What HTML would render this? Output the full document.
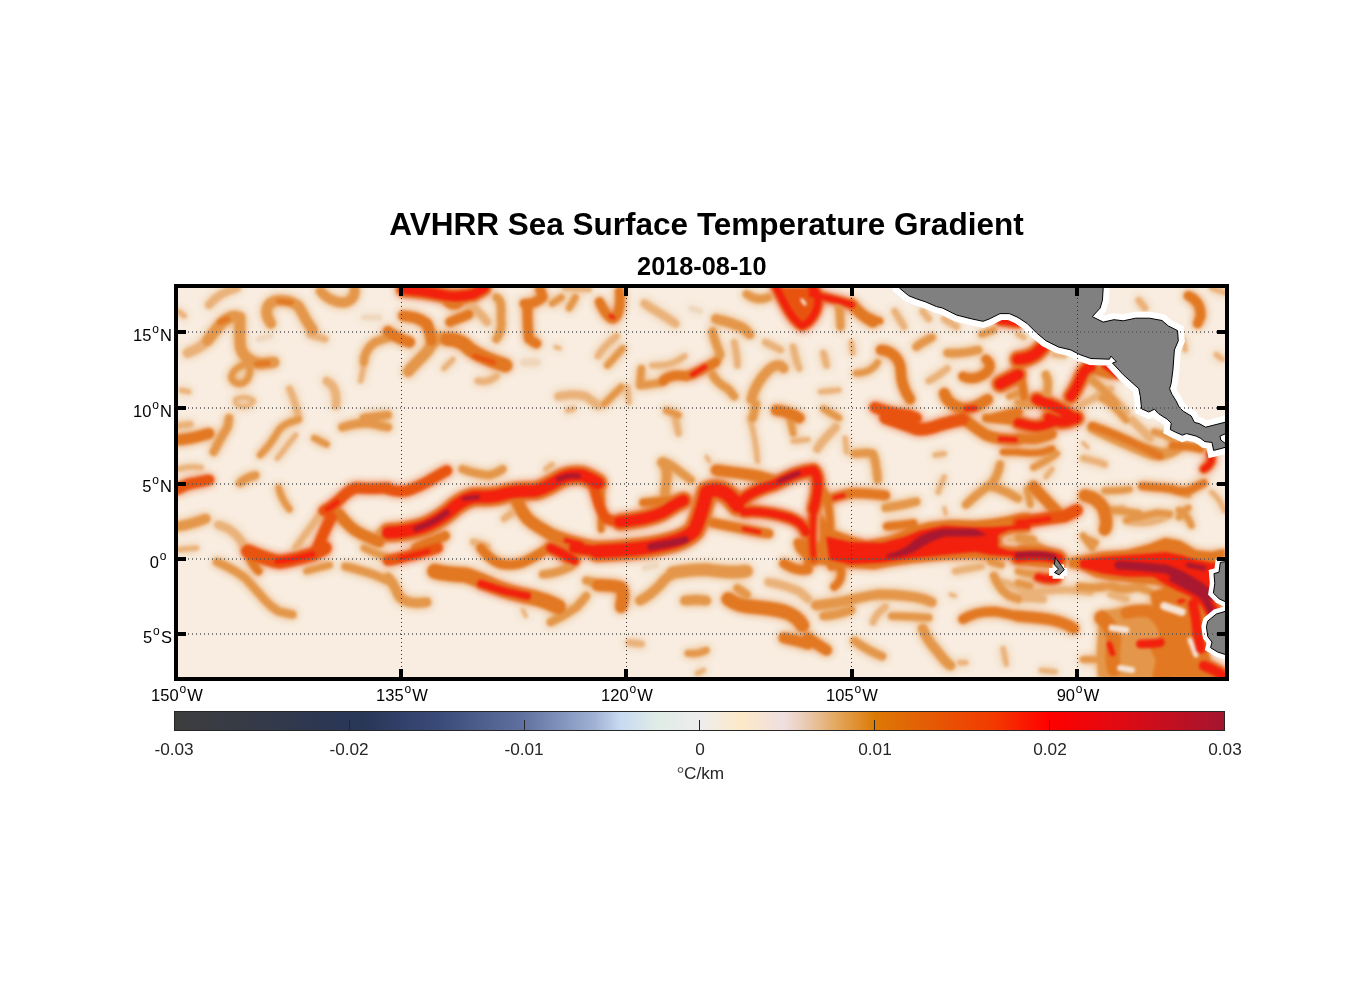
<!DOCTYPE html>
<html><head><meta charset="utf-8">
<style>
html,body{margin:0;padding:0;background:#fff;}
body{width:1356px;height:1000px;overflow:hidden;position:relative;}
svg{position:absolute;left:0;top:0;}
text{font-family:"Liberation Sans",Arial,sans-serif;}
</style></head><body>
<svg width="1356" height="1000" viewBox="0 0 1356 1000">
<defs>
<clipPath id="mc"><rect x="178" y="288" width="1047" height="389"/></clipPath>
<filter id="b3" x="-20%" y="-20%" width="140%" height="140%"><feGaussianBlur stdDeviation="3"/></filter>
<filter id="b2" x="-10%" y="-10%" width="120%" height="120%" color-interpolation-filters="sRGB">
<feGaussianBlur in="SourceGraphic" stdDeviation="4" result="w"/>
<feComponentTransfer in="w" result="w2"><feFuncA type="linear" slope="0.9"/></feComponentTransfer>
<feGaussianBlur in="SourceGraphic" stdDeviation="1.8" result="c"/>
<feMerge><feMergeNode in="w2"/><feMergeNode in="c"/></feMerge>
</filter>
<linearGradient id="cb" x1="0" x2="1" y1="0" y2="0">
<stop offset="0" stop-color="#3d3d3d"/>
<stop offset="0.08" stop-color="#343a48"/>
<stop offset="0.18" stop-color="#283658"/>
<stop offset="0.25" stop-color="#3a4a78"/>
<stop offset="0.33" stop-color="#5f6f9f"/>
<stop offset="0.40" stop-color="#a0b2d4"/>
<stop offset="0.425" stop-color="#c8daf2"/>
<stop offset="0.46" stop-color="#e0ece6"/>
<stop offset="0.50" stop-color="#ededed"/>
<stop offset="0.54" stop-color="#fde9c8"/>
<stop offset="0.58" stop-color="#efdfe0"/>
<stop offset="0.60" stop-color="#e9ccb5"/>
<stop offset="0.63" stop-color="#e4a860"/>
<stop offset="0.667" stop-color="#dc7a05"/>
<stop offset="0.72" stop-color="#e55a05"/>
<stop offset="0.78" stop-color="#f33a00"/>
<stop offset="0.833" stop-color="#ff0000"/>
<stop offset="0.90" stop-color="#e00a12"/>
<stop offset="1" stop-color="#a3152f"/>
</linearGradient>
</defs>
<!-- title -->
<text x="706.5" y="235" font-size="31.5" font-weight="bold" text-anchor="middle" fill="#000">AVHRR Sea Surface Temperature Gradient</text>
<text x="701.8" y="275" font-size="25.3" font-weight="bold" text-anchor="middle" fill="#000">2018-08-10</text>
<!-- map -->
<g clip-path="url(#mc)">
<rect x="178" y="288" width="1047" height="389" fill="#f8ede0"/>
<style>
.f path{fill:none;stroke-linecap:round;stroke-linejoin:round;}
.o0{stroke:#eed6bc}
.o1{stroke:#eab27a}
.o2{stroke:#e4974a}
.o3{stroke:#e27822}
.o4{stroke:#e8540f}
.hl{stroke:#f5e4d6}
.r1{stroke:#f2200c}
.r2{stroke:#d80e15}
.r3{stroke:#a81830}
</style>
<g class="f" filter="url(#b2)">
<g transform="translate(388,288) scale(0.154867)">
<path class="o3" stroke-width="96" d="M100 10 C180 15 260 25 380 50 C430 60 480 55 550 40 L620 0"/>
</g>
<g transform="translate(598,288) scale(0.154867)">
<path class="o3" stroke-width="36" d="M80 180 L100 190"/>
<path class="o3" stroke-width="48" d="M610 560 L690 510"/>
</g>
<g transform="translate(808,288) scale(0.154867)">
<path class="o3" stroke-width="72" d="M1240 210 L1356 225"/>
<path class="o3" stroke-width="108" d="M1240 620 C1280 600 1320 580 1356 560"/>
<path class="o3" stroke-width="48" d="M1020 780 L1080 775"/>
</g>
<g transform="translate(1018,288) scale(0.154867)">
<path class="o3" stroke-width="108" d="M0 460 C40 460 80 450 120 420 L160 380"/>
<path class="o3" stroke-width="96" d="M120 720 C180 740 240 760 300 800 L360 839"/>
<path class="o3" stroke-width="96" d="M340 700 C370 660 390 620 410 570 C430 530 450 510 470 510"/>
<path class="o3" stroke-width="60" d="M560 500 L640 560"/>
</g>
<g transform="translate(178,418) scale(0.154867)">
<path class="o3" stroke-width="42" d="M960 590 C990 575 1010 560 1030 540"/>
</g>
<g transform="translate(388,418) scale(0.154867)">
<path class="o3" stroke-width="120" d="M0 740 C60 740 140 730 220 705 C290 680 350 640 400 600 C440 560 480 530 550 510 C620 505 680 520 750 490 C800 475 870 470 950 470 C1000 460 1050 430 1100 400 C1150 370 1200 365 1250 370 C1290 380 1320 400 1356 420"/>
<path class="o3" stroke-width="48" d="M1150 790 L1250 815"/>
</g>
<g transform="translate(808,418) scale(0.154867)">
<path class="o3" stroke-width="48" d="M1240 135 L1340 140"/>
<path class="o3" stroke-width="42" d="M170 515 L230 500"/>
</g>
<g transform="translate(1018,418) scale(0.154867)">
<path class="o3" stroke-width="84" d="M0 30 C40 40 80 55 120 55 C160 50 190 40 220 30"/>
<path class="o3" stroke-width="96" d="M200 0 C240 20 280 30 320 20 L380 0"/>
<path class="o3" stroke-width="60" d="M1240 230 C1260 260 1250 300 1200 330"/>
</g>
<g transform="translate(178,548) scale(0.154867)">
<path class="o3" stroke-width="54" d="M640 85 C720 80 800 60 870 40"/>
</g>
<g transform="translate(388,548) scale(0.154867)">
<path class="o3" stroke-width="42" d="M80 65 C140 52 200 38 260 20"/>
<path class="o3" stroke-width="72" d="M600 230 C660 250 720 270 780 285 C830 295 870 305 900 310"/>
<path class="o3" stroke-width="84" d="M1050 0 C1100 20 1150 45 1200 80"/>
<path class="o3" stroke-width="96" d="M1200 0 C1260 10 1310 15 1356 20"/>
</g>
<g transform="translate(1018,548) scale(0.154867)">
<path class="o3" stroke-width="132" d="M900 150 C950 185 1000 220 1080 250 C1140 270 1180 300 1220 350 L1260 420"/>
<path class="o3" stroke-width="96" d="M1130 360 C1145 420 1155 500 1160 560 L1180 650"/>
<path class="o3" stroke-width="54" d="M590 620 L610 680"/>
<path class="o3" stroke-width="84" d="M790 620 C830 620 870 620 920 610"/>
<path class="o3" stroke-width="96" d="M1200 760 C1250 780 1300 800 1336 839"/>
<path class="o3" stroke-width="36" d="M1040 345 L1070 340"/>
</g>
<g transform="translate(620,450) scale(0.154867)">
<path class="o3" stroke-width="108" d="M0 465 C100 455 200 440 280 400 C320 375 350 350 410 325"/>
<path class="o3" stroke-width="132" d="M-150 655 C0 650 100 640 200 625 C330 600 420 580 480 520 C520 440 540 350 560 270 C600 250 660 250 720 310 L760 360"/>
<path class="o3" stroke-width="90" d="M760 360 C800 290 900 250 1000 220 C1080 180 1150 140 1250 130 C1290 180 1280 280 1250 380"/>
<path class="o3" stroke-width="42" d="M1255 360 C1245 450 1238 560 1250 680"/>
<path class="o3" stroke-width="78" d="M800 400 C900 390 1000 410 1100 440 C1150 460 1180 480 1200 530"/>
<path class="o3" stroke-width="42" d="M800 510 L900 530"/>
</g>
<g transform="translate(1018,490) scale(0.154867)">
<path class="o3" stroke-width="108" d="M0 430 C100 420 200 425 260 445"/>
<path class="o3" stroke-width="72" d="M130 560 C170 575 210 580 250 570"/>
<path class="o3" stroke-width="48" d="M0 212 C80 205 140 195 200 185"/>
</g>
<g transform="translate(0,0) scale(1.000000)">
<path class="o3" stroke-width="10.8" d="M776 287 C783 300 790 318 802 326 C812 322 818 310 818 300 C818 293 815 289 812 288"/>
<path class="o3" stroke-width="9.6" d="M812 294 C825 298 840 300 852 305"/>
</g>
<g transform="translate(178,288) scale(0.154867)">
<path class="o0" stroke-width="34" d="M520 330 L600 310"/>
<path class="o0" stroke-width="34" d="M1200 190 L1300 190"/>
</g>
<g transform="translate(388,288) scale(0.154867)">
<path class="o0" stroke-width="51" d="M880 480 L960 480"/>
</g>
<g transform="translate(598,288) scale(0.154867)">
<path class="o0" stroke-width="34" d="M600 130 L660 150"/>
</g>
<g transform="translate(598,548) scale(0.154867)">
<path class="o0" stroke-width="34" d="M300 130 L380 110"/>
</g>
<g transform="translate(178,288) scale(0.154867)">
<path class="o1" stroke-width="51" d="M200 110 C240 60 300 20 380 0"/>
<path class="o1" stroke-width="59.5" d="M60 420 C100 400 150 390 190 340"/>
<path class="o1" stroke-width="34" d="M1180 600 L1200 500"/>
<path class="o1" stroke-width="51" d="M960 600 C1000 620 1030 660 1020 760"/>
<path class="o1" stroke-width="42.5" d="M720 650 C740 690 760 750 780 839"/>
<path class="o1" stroke-width="29.75" d="M370 720 C400 700 460 700 490 730 C460 770 400 780 370 740"/>
<path class="o1" stroke-width="34" d="M0 150 L40 180"/>
<path class="o1" stroke-width="34" d="M20 660 L70 670"/>
<path class="o1" stroke-width="42.5" d="M850 300 L950 330"/>
</g>
<g transform="translate(388,288) scale(0.154867)">
<path class="o1" stroke-width="51" d="M540 120 C570 140 610 180 640 220"/>
<path class="o1" stroke-width="34" d="M360 520 L420 460"/>
<path class="o1" stroke-width="42.5" d="M580 600 C620 610 660 600 700 570"/>
<path class="o1" stroke-width="25.5" d="M1080 380 L1110 390"/>
<path class="o1" stroke-width="51" d="M1100 700 C1160 690 1220 680 1280 700 L1356 760"/>
<path class="o1" stroke-width="34" d="M1160 790 L1200 780"/>
<path class="o1" stroke-width="34" d="M1140 0 L1300 10"/>
</g>
<g transform="translate(598,288) scale(0.154867)">
<path class="o1" stroke-width="51" d="M300 100 C340 130 400 160 500 230"/>
<path class="o1" stroke-width="42.5" d="M0 440 C20 400 60 360 120 310"/>
<path class="o1" stroke-width="34" d="M190 640 L200 740"/>
<path class="o1" stroke-width="42.5" d="M880 350 C890 400 900 450 900 500"/>
<path class="o1" stroke-width="38.25" d="M350 500 C420 500 480 500 560 440"/>
<path class="o1" stroke-width="42.5" d="M1080 350 L1180 400"/>
<path class="o1" stroke-width="42.5" d="M1260 380 C1270 430 1280 480 1300 520"/>
</g>
<g transform="translate(808,288) scale(0.154867)">
<path class="o1" stroke-width="42.5" d="M560 150 L620 250"/>
<path class="o1" stroke-width="42.5" d="M740 150 L780 200"/>
<path class="o1" stroke-width="42.5" d="M880 200 L960 250"/>
<path class="o1" stroke-width="42.5" d="M100 420 L120 500"/>
<path class="o1" stroke-width="34" d="M280 350 L290 420"/>
<path class="o1" stroke-width="34" d="M80 670 L200 660"/>
<path class="o1" stroke-width="42.5" d="M780 600 C820 580 860 550 900 520"/>
</g>
<g transform="translate(1018,288) scale(0.154867)">
<path class="o1" stroke-width="42.5" d="M400 760 C450 730 520 700 600 650"/>
<path class="o1" stroke-width="42.5" d="M600 700 L700 800"/>
<path class="o1" stroke-width="34" d="M230 430 L300 440"/>
<path class="o1" stroke-width="42.5" d="M780 80 L820 130"/>
<path class="o1" stroke-width="34" d="M1060 320 L1080 400"/>
<path class="o1" stroke-width="34" d="M1280 430 L1320 460"/>
<path class="o1" stroke-width="34" d="M1250 0 L1336 30"/>
<path class="o1" stroke-width="34" d="M0 300 L40 320"/>
</g>
<g transform="translate(178,418) scale(0.154867)">
<path class="o1" stroke-width="42.5" d="M0 50 L80 40"/>
<path class="o1" stroke-width="34" d="M0 330 C40 320 100 310 150 320"/>
<path class="o1" stroke-width="34" d="M640 260 C670 230 700 180 760 110"/>
<path class="o1" stroke-width="42.5" d="M760 839 C800 780 860 700 920 620"/>
<path class="o1" stroke-width="51" d="M260 690 C300 700 340 720 370 750 C400 780 420 810 430 839"/>
</g>
<g transform="translate(388,418) scale(0.154867)">
<path class="o1" stroke-width="34" d="M1020 330 L1060 300"/>
<path class="o1" stroke-width="42.5" d="M750 650 L830 590"/>
<path class="o1" stroke-width="42.5" d="M550 800 L640 830"/>
</g>
<g transform="translate(598,418) scale(0.154867)">
<path class="o1" stroke-width="42.5" d="M500 0 L520 100"/>
<path class="o1" stroke-width="34" d="M980 0 C1000 70 1020 150 1030 280"/>
<path class="o1" stroke-width="34" d="M1260 150 L1356 140"/>
<path class="o1" stroke-width="25.5" d="M700 250 L720 280"/>
</g>
<g transform="translate(808,418) scale(0.154867)">
<path class="o1" stroke-width="51" d="M60 200 C80 160 120 120 180 60"/>
<path class="o1" stroke-width="34" d="M240 130 L250 220"/>
<path class="o1" stroke-width="34" d="M840 480 C850 450 865 420 880 380"/>
<path class="o1" stroke-width="25.5" d="M880 580 L890 620"/>
<path class="o1" stroke-width="34" d="M820 240 L880 230"/>
</g>
<g transform="translate(1018,418) scale(0.154867)">
<path class="o1" stroke-width="34" d="M180 380 L220 330"/>
<path class="o1" stroke-width="25.5" d="M420 160 L450 190"/>
<path class="o1" stroke-width="42.5" d="M420 260 C460 270 520 280 560 300"/>
<path class="o1" stroke-width="34" d="M600 590 L680 580"/>
<path class="o1" stroke-width="34" d="M1250 480 C1280 500 1310 540 1336 600"/>
</g>
<g transform="translate(178,548) scale(0.154867)">
<path class="o1" stroke-width="34" d="M0 10 L120 0"/>
</g>
<g transform="translate(388,548) scale(0.154867)">
<path class="o1" stroke-width="25.5" d="M870 400 L890 440"/>
</g>
<g transform="translate(598,548) scale(0.154867)">
<path class="o1" stroke-width="51" d="M1100 220 C1160 230 1220 245 1300 280 L1356 330"/>
<path class="o1" stroke-width="42.5" d="M200 610 L280 620"/>
<path class="o1" stroke-width="34" d="M640 810 L680 790"/>
</g>
<g transform="translate(808,548) scale(0.154867)">
<path class="o1" stroke-width="42.5" d="M420 480 C430 440 460 410 500 380"/>
<path class="o1" stroke-width="42.5" d="M950 150 C1000 140 1050 130 1120 120"/>
<path class="o1" stroke-width="25.5" d="M920 300 L950 310"/>
<path class="o1" stroke-width="34" d="M980 740 L1020 740"/>
<path class="o1" stroke-width="34" d="M1260 650 L1280 750"/>
</g>
<g transform="translate(1018,548) scale(0.154867)">
<path class="o1" stroke-width="51" d="M0 320 C60 320 110 322 160 330"/>
<path class="o1" stroke-width="42.5" d="M600 300 L700 330"/>
<path class="o1" stroke-width="34" d="M150 790 L240 800"/>
</g>
<g transform="translate(820,490) scale(0.154867)">
<path class="o1" stroke-width="34" d="M860 345 L950 345"/>
<path class="o1" stroke-width="34" d="M1220 320 L1240 320"/>
</g>
<g transform="translate(1018,490) scale(0.154867)">
<path class="o1" stroke-width="42.5" d="M700 200 C780 215 860 225 980 160"/>
</g>
<g transform="translate(0,0) scale(1.000000)">
<path class="o1" stroke-width="6.8" d="M1035 592 C1050 590 1070 588 1090 592"/>
<path class="o1" stroke-width="5.95" d="M1002 582 C1012 584 1025 590 1040 598"/>
<path class="o1" stroke-width="7.65" d="M1132 420 L1150 438"/>
</g>
<g transform="translate(178,288) scale(0.154867)">
<path class="o2" stroke-width="68" d="M190 340 C230 290 270 230 300 210 C330 190 360 170 400 190"/>
<path class="o2" stroke-width="68" d="M400 190 C400 250 395 330 405 390 C420 440 470 480 530 490 L620 480"/>
<path class="o2" stroke-width="42.5" d="M345 580 C350 530 400 500 445 490 C480 510 460 580 440 600 C410 630 360 620 345 580"/>
<path class="o2" stroke-width="63.75" d="M600 230 C560 170 560 110 620 85 C680 70 750 90 780 120 C810 170 830 220 870 270"/>
<path class="o2" stroke-width="59.5" d="M920 20 C950 60 1000 90 1060 95 C1110 95 1150 60 1140 0"/>
<path class="o2" stroke-width="51" d="M1200 480 C1200 420 1230 380 1270 350 L1356 320"/>
<path class="o2" stroke-width="51" d="M1200 839 L1356 820"/>
</g>
<g transform="translate(388,288) scale(0.154867)">
<path class="o2" stroke-width="68" d="M130 540 C160 500 220 450 260 400 C280 360 310 330 340 320"/>
<path class="o2" stroke-width="51" d="M700 60 C740 80 730 140 730 200 C740 250 720 300 700 330"/>
<path class="o2" stroke-width="42.5" d="M1060 100 L1120 60"/>
<path class="o2" stroke-width="42.5" d="M1170 130 L1210 60"/>
</g>
<g transform="translate(598,288) scale(0.154867)">
<path class="o2" stroke-width="42.5" d="M60 500 C100 460 130 420 160 390"/>
<path class="o2" stroke-width="42.5" d="M40 750 C70 720 100 690 150 640"/>
<path class="o2" stroke-width="51" d="M960 40 C1000 70 1050 80 1100 60"/>
<path class="o2" stroke-width="59.5" d="M760 200 C800 210 860 220 940 260 L980 300"/>
<path class="o2" stroke-width="51" d="M740 280 C750 340 780 400 790 430 L760 480"/>
<path class="o2" stroke-width="46.75" d="M280 520 L270 630 L420 610"/>
<path class="o2" stroke-width="51" d="M740 560 C760 600 800 630 840 650 L880 700"/>
<path class="o2" stroke-width="59.5" d="M990 720 C1010 640 1050 580 1100 530 C1140 490 1180 490 1200 520"/>
<path class="o2" stroke-width="51" d="M1020 750 L1000 839"/>
<path class="o2" stroke-width="42.5" d="M440 790 L520 820"/>
</g>
<g transform="translate(808,288) scale(0.154867)">
<path class="o2" stroke-width="51" d="M200 100 C205 150 210 200 210 250"/>
<path class="o2" stroke-width="51" d="M700 380 C720 360 760 340 800 320"/>
<path class="o2" stroke-width="42.5" d="M310 550 C360 550 420 530 450 480"/>
<path class="o2" stroke-width="51" d="M900 420 C960 425 1020 420 1100 400"/>
<path class="o2" stroke-width="42.5" d="M1120 300 L1200 270"/>
<path class="o2" stroke-width="42.5" d="M1300 700 L1356 680"/>
<path class="o2" stroke-width="42.5" d="M100 780 L200 839"/>
</g>
<g transform="translate(1018,288) scale(0.154867)">
<path class="o2" stroke-width="51" d="M180 560 C200 600 200 640 180 700"/>
<path class="o2" stroke-width="42.5" d="M0 740 L80 760"/>
</g>
<g transform="translate(178,418) scale(0.154867)">
<path class="o2" stroke-width="51" d="M230 220 C250 180 280 120 320 60 L330 0"/>
<path class="o2" stroke-width="51" d="M400 420 C420 400 460 380 500 370"/>
<path class="o2" stroke-width="42.5" d="M530 240 C560 210 600 170 650 80 C670 50 700 30 780 10"/>
<path class="o2" stroke-width="42.5" d="M880 130 L960 170"/>
<path class="o2" stroke-width="51" d="M1060 60 C1120 40 1180 30 1240 35 L1356 60"/>
<path class="o2" stroke-width="42.5" d="M650 450 C660 490 680 540 720 590"/>
<path class="o2" stroke-width="59.5" d="M0 700 C40 695 100 680 180 650"/>
<path class="o2" stroke-width="42.5" d="M1300 740 L1356 720"/>
</g>
<g transform="translate(388,418) scale(0.154867)">
<path class="o2" stroke-width="51" d="M480 330 C520 345 580 360 650 370 C690 360 720 345 740 330"/>
</g>
<g transform="translate(598,418) scale(0.154867)">
<path class="o2" stroke-width="51" d="M420 280 C450 290 480 310 520 340 C560 370 580 390 600 400"/>
<path class="o2" stroke-width="42.5" d="M1240 0 L1260 100"/>
</g>
<g transform="translate(808,418) scale(0.154867)">
<path class="o2" stroke-width="51" d="M300 230 C350 225 400 220 420 230 C440 280 445 340 450 400"/>
<path class="o2" stroke-width="51" d="M500 580 C560 570 620 560 700 540"/>
<path class="o2" stroke-width="51" d="M1020 560 C1060 520 1100 480 1180 430 C1210 400 1230 350 1240 300"/>
<path class="o2" stroke-width="51" d="M1180 440 C1230 455 1280 470 1356 520"/>
</g>
<g transform="translate(1018,418) scale(0.154867)">
<path class="o2" stroke-width="42.5" d="M100 320 C140 300 180 280 220 250 L250 230"/>
<path class="o2" stroke-width="68" d="M480 60 C540 90 600 120 680 155 C740 180 800 210 880 235 C940 245 990 225 1050 180"/>
<path class="o2" stroke-width="42.5" d="M880 90 C920 100 960 110 1000 140"/>
<path class="o2" stroke-width="42.5" d="M60 460 L80 560"/>
<path class="o2" stroke-width="42.5" d="M560 470 C600 470 650 470 720 460"/>
<path class="o2" stroke-width="42.5" d="M700 660 C760 645 830 630 900 612 L980 620"/>
<path class="o2" stroke-width="42.5" d="M1040 640 C1060 610 1080 590 1100 580"/>
<path class="o2" stroke-width="42.5" d="M420 760 C440 790 460 810 480 839"/>
<path class="o2" stroke-width="42.5" d="M0 780 C40 790 100 810 150 839"/>
</g>
<g transform="translate(178,548) scale(0.154867)">
<path class="o2" stroke-width="51" d="M250 90 C300 110 360 140 430 190 C470 230 500 270 530 300 C560 340 600 380 650 410 L740 430"/>
<path class="o2" stroke-width="42.5" d="M830 150 C860 140 900 130 980 110"/>
<path class="o2" stroke-width="51" d="M1080 120 C1140 130 1200 150 1260 170 L1356 210"/>
<path class="o2" stroke-width="42.5" d="M1200 0 C1240 20 1290 45 1356 60"/>
</g>
<g transform="translate(388,548) scale(0.154867)">
<path class="o2" stroke-width="59.5" d="M0 190 C30 220 50 260 70 310 C100 350 150 365 250 350"/>
<path class="o2" stroke-width="51" d="M1000 170 C1050 168 1100 160 1180 120"/>
<path class="o2" stroke-width="51" d="M1050 480 C1100 455 1150 430 1220 380 L1280 310"/>
<path class="o2" stroke-width="51" d="M1280 210 L1356 230"/>
</g>
<g transform="translate(598,548) scale(0.154867)">
<path class="o2" stroke-width="59.5" d="M270 340 C310 320 350 290 400 240 C430 200 450 180 480 170"/>
<path class="o2" stroke-width="76.5" d="M480 160 C540 150 600 140 700 140 C780 150 860 165 960 150"/>
<path class="o2" stroke-width="59.5" d="M560 340 C600 335 640 330 700 340"/>
<path class="o2" stroke-width="51" d="M900 260 L960 300"/>
<path class="o2" stroke-width="42.5" d="M580 680 C620 685 660 680 700 660"/>
</g>
<g transform="translate(808,548) scale(0.154867)">
<path class="o2" stroke-width="59.5" d="M50 370 C100 365 150 360 250 340 C320 325 400 305 450 300 C550 300 650 305 750 330 L800 350"/>
<path class="o2" stroke-width="51" d="M100 440 C150 435 200 430 280 400"/>
<path class="o2" stroke-width="46.75" d="M540 440 C600 438 650 440 780 450"/>
<path class="o2" stroke-width="59.5" d="M740 520 C760 570 790 620 830 660 C860 700 890 740 920 760"/>
<path class="o2" stroke-width="51" d="M300 600 C340 630 390 665 480 700"/>
<path class="o2" stroke-width="51" d="M1200 180 C1220 230 1250 280 1300 310 L1356 330"/>
<path class="o2" stroke-width="42.5" d="M1180 90 L1250 110"/>
</g>
<g transform="translate(1018,548) scale(0.154867)">
<path class="o2" stroke-width="51" d="M400 250 C440 255 500 260 560 250"/>
<path class="o2" stroke-width="42.5" d="M750 250 L850 280"/>
<path class="o2" stroke-width="42.5" d="M420 720 L500 720"/>
<path class="o2" stroke-width="42.5" d="M0 150 C50 165 100 170 150 170"/>
</g>
<g transform="translate(620,450) scale(0.154867)">
<path class="o2" stroke-width="59.5" d="M270 80 C320 120 300 200 290 280"/>
</g>
<g transform="translate(1018,490) scale(0.154867)">
<path class="o2" stroke-width="42.5" d="M450 320 L500 340"/>
<path class="o2" stroke-width="42.5" d="M600 130 C650 135 700 140 780 150"/>
<path class="o2" stroke-width="42.5" d="M1040 130 C1080 150 1100 180 1120 230"/>
<path class="o2" stroke-width="42.5" d="M1000 0 L1100 30"/>
<path class="o2" stroke-width="42.5" d="M0 300 L100 320"/>
<path class="o2" stroke-width="51" d="M600 620 C650 640 700 650 800 620"/>
<path class="o2" stroke-width="42.5" d="M0 600 L80 620"/>
</g>
<g transform="translate(0,0) scale(1.000000)">
<path class="o2" style="fill:#e4974a;stroke:none" d="M1100 612 L1130 606 L1160 604 L1176 620 L1172 650 L1174 678 L1098 678 L1097 650 Z"/>
<path class="o2" stroke-width="7.65" d="M1092 380 C1100 386 1108 394 1116 404"/>
<path class="o2" stroke-width="6.8" d="M1102 398 C1110 402 1118 410 1126 420"/>
<path class="o2" stroke-width="6.8" d="M1140 446 L1162 452"/>
</g>
<g transform="translate(178,288) scale(0.154867)">
<path class="o3" stroke-width="38.25" d="M270 220 L320 200"/>
<path class="o3" stroke-width="38.25" d="M510 490 L580 485"/>
<path class="o3" stroke-width="34" d="M650 85 L730 95"/>
</g>
<g transform="translate(388,288) scale(0.154867)">
<path class="o3" stroke-width="51" d="M380 90 C400 110 430 120 460 100"/>
<path class="o3" stroke-width="68" d="M100 180 C150 185 200 190 250 230 C270 270 275 300 280 340"/>
<path class="o3" stroke-width="68" d="M0 280 C30 310 80 330 140 350"/>
<path class="o3" stroke-width="85" d="M380 330 C430 330 480 340 520 390 C560 420 620 450 700 480 L760 500"/>
<path class="o3" stroke-width="59.5" d="M400 220 C440 200 480 190 520 170"/>
<path class="o3" stroke-width="59.5" d="M880 100 C920 105 960 95 1000 60 L980 0"/>
<path class="o3" stroke-width="59.5" d="M900 110 C900 170 900 250 910 330 L960 360"/>
</g>
<g transform="translate(598,288) scale(0.154867)">
<path class="o3" stroke-width="59.5" d="M10 90 C40 150 70 200 100 200 C130 180 150 120 140 20"/>
<path class="o3" stroke-width="59.5" d="M420 600 C460 560 520 560 570 570 C620 560 680 520 760 480"/>
<path class="o3" stroke-width="68" d="M1150 790 C1200 795 1250 810 1300 839"/>
</g>
<g transform="translate(808,288) scale(0.154867)">
<path class="o3" stroke-width="68" d="M280 100 C310 140 350 180 420 220"/>
<path class="o3" stroke-width="63.75" d="M470 400 C540 400 600 460 600 540 C600 600 620 660 660 720"/>
<path class="o3" stroke-width="59.5" d="M1150 460 C1200 500 1170 550 1100 575 C1060 590 1020 580 1000 570"/>
<path class="o3" stroke-width="68" d="M880 680 C890 720 930 760 1000 780 C1060 780 1100 760 1160 720"/>
<path class="o3" stroke-width="59.5" d="M1200 839 L1356 800"/>
</g>
<g transform="translate(1018,288) scale(0.154867)">
<path class="o3" stroke-width="51" d="M0 520 C20 560 30 620 40 700"/>
<path class="o3" stroke-width="51" d="M440 500 C480 520 520 550 600 560"/>
<path class="o3" stroke-width="59.5" d="M1100 50 C1150 70 1180 110 1180 180 L1160 230"/>
</g>
<g transform="translate(178,418) scale(0.154867)">
<path class="o3" stroke-width="68" d="M0 140 C40 140 100 130 200 100"/>
<path class="o3" stroke-width="68" d="M1040 620 C1070 660 1100 700 1150 730 C1200 760 1250 780 1300 800"/>
</g>
<g transform="translate(388,418) scale(0.154867)">
<path class="o3" stroke-width="51" d="M260 410 L380 340"/>
<path class="o3" stroke-width="76.5" d="M830 520 C840 560 860 600 900 650 C940 690 1000 720 1050 750 C1120 780 1200 810 1356 839"/>
<path class="o3" stroke-width="59.5" d="M180 839 C220 820 260 800 300 790 L370 760"/>
</g>
<g transform="translate(598,418) scale(0.154867)">
<path class="o3" stroke-width="42.5" d="M20 450 C25 550 25 620 20 720"/>
</g>
<g transform="translate(808,418) scale(0.154867)">
<path class="o3" stroke-width="68" d="M1000 0 C1050 40 1100 80 1150 110 C1200 130 1280 140 1356 140"/>
<path class="o3" stroke-width="51" d="M1150 0 L1356 20"/>
<path class="o3" stroke-width="59.5" d="M120 530 C160 515 200 500 280 485 C340 482 420 490 500 500"/>
<path class="o3" stroke-width="51" d="M510 700 C560 695 620 690 680 680"/>
<path class="o3" stroke-width="42.5" d="M1260 220 L1356 220"/>
</g>
<g transform="translate(1018,418) scale(0.154867)">
<path class="o3" stroke-width="59.5" d="M0 130 C40 135 80 140 120 135 C160 125 190 115 220 105"/>
<path class="o3" stroke-width="42.5" d="M0 220 C40 225 100 230 160 220 L220 200"/>
<path class="o3" stroke-width="51" d="M1000 180 C1060 178 1120 180 1180 200"/>
<path class="o3" stroke-width="68" d="M100 440 C130 480 160 510 200 550 C230 580 250 600 270 630"/>
<path class="o3" stroke-width="76.5" d="M430 500 C480 510 520 530 550 580 C570 640 580 690 560 720"/>
<path class="o3" stroke-width="51" d="M800 440 C860 445 940 450 1000 460 C1040 475 1080 480 1120 460 L1200 420"/>
</g>
<g transform="translate(178,548) scale(0.154867)">
<path class="o3" stroke-width="51" d="M460 60 C480 100 500 130 520 150"/>
</g>
<g transform="translate(388,548) scale(0.154867)">
<path class="o3" stroke-width="93.5" d="M300 150 C340 160 400 170 500 175 C560 190 620 220 700 255 C780 285 860 305 940 320 C1000 335 1060 360 1100 380"/>
<path class="o3" stroke-width="59.5" d="M600 0 C630 40 670 80 720 100 C780 115 850 105 900 80 C950 55 990 30 1040 0"/>
</g>
<g transform="translate(598,548) scale(0.154867)">
<path class="o3" stroke-width="76.5" d="M0 240 C50 240 100 240 150 255 C170 290 160 330 150 380"/>
<path class="o3" stroke-width="85" d="M840 330 C880 360 920 380 1000 380 C1060 385 1120 390 1200 410 C1250 425 1290 445 1320 500"/>
<path class="o3" stroke-width="59.5" d="M1200 100 C1240 120 1280 150 1356 140"/>
<path class="o3" stroke-width="51" d="M1300 0 L1356 60"/>
<path class="o3" stroke-width="68" d="M1200 580 C1250 590 1300 600 1356 620"/>
</g>
<g transform="translate(808,548) scale(0.154867)">
<path class="o3" stroke-width="51" d="M0 100 L60 80"/>
<path class="o3" stroke-width="51" d="M150 120 C180 110 205 110 215 150 C220 190 200 230 170 250"/>
<path class="o3" stroke-width="68" d="M0 580 C30 600 70 630 120 660"/>
<path class="o3" stroke-width="59.5" d="M1000 460 C1050 430 1100 410 1200 410 C1250 415 1300 430 1356 440"/>
</g>
<g transform="translate(1018,548) scale(0.154867)">
<path class="o3" stroke-width="93.5" d="M540 450 C580 480 610 530 620 600 C615 650 600 700 620 780"/>
<path class="o3" stroke-width="76.5" d="M700 420 C740 410 790 400 840 410 C880 420 900 450 920 480"/>
<path class="o3" stroke-width="85" d="M900 650 C920 690 940 720 950 760 L950 839"/>
<path class="o3" stroke-width="59.5" d="M1000 560 C1030 590 1060 620 1100 700"/>
<path class="o3" stroke-width="51" d="M1000 350 L1080 340"/>
<path class="o3" stroke-width="68" d="M0 440 C60 445 120 450 200 460 C260 470 310 485 360 520"/>
</g>
<g transform="translate(620,450) scale(0.154867)">
<path class="o3" stroke-width="51" d="M150 340 C250 330 350 320 420 320"/>
<path class="o3" stroke-width="68" d="M620 130 C700 140 800 150 900 170 L1000 200"/>
<path class="o3" stroke-width="59.5" d="M600 470 C700 490 800 510 900 530 L960 540"/>
<path class="o3" stroke-width="51" d="M1300 250 C1340 300 1356 400 1356 500"/>
<path class="o3" stroke-width="59.5" d="M1150 600 L1356 650"/>
</g>
<g transform="translate(820,490) scale(0.154867)">
<path class="o3" style="fill:#e27822;stroke:none" d="M0 140 L60 250 L200 300 L300 330 L450 300 L600 240 L700 210 L850 195 L1000 200 L1100 190 L1200 175 L1300 150 L1356 150 L1356 270 L1250 275 L1170 300 L1170 360 L1250 370 L1356 370 L1356 450 L1200 440 L1100 450 L1000 440 L800 450 L600 470 L450 490 L350 510 L200 500 L0 480 Z"/>
<path class="o3" stroke-width="34" d="M700 360 L740 360"/>
</g>
<g transform="translate(1018,490) scale(0.154867)">
<path class="o3" style="fill:#e27822;stroke:none" d="M330 440 L450 420 L550 400 L700 390 L850 350 L950 310 L1050 330 L1150 390 L1250 400 L1336 380 L1336 710 L1200 700 L1100 640 L1000 620 L900 610 L800 600 L700 590 L600 580 L500 560 L400 510 L330 500 Z"/>
<path class="o3" style="fill:#e27822;stroke:none" d="M0 360 L150 360 L280 390 L320 440 L300 500 L200 500 L100 490 L0 480 Z"/>
</g>
<g transform="translate(0,0) scale(1.000000)">
<path class="o3" style="fill:#e27822;stroke:none" d="M1150 592 L1185 584 L1208 598 L1206 640 L1214 678 L1152 678 L1160 640 Z"/>
<path class="o3" stroke-width="6.8" d="M852 305 C860 312 868 318 880 321"/>
<path class="o3" stroke-width="7.65" d="M1092 426 C1110 432 1128 440 1146 449 L1160 456"/>
</g>
<g transform="translate(388,288) scale(0.154867)">
<path class="o4" stroke-width="34" d="M560 440 L680 480"/>
</g>
<g transform="translate(808,288) scale(0.154867)">
<path class="o4" stroke-width="68" d="M430 770 C480 790 540 810 650 820 L700 839"/>
</g>
<g transform="translate(178,418) scale(0.154867)">
<path class="o4" stroke-width="68" d="M0 460 C30 440 60 425 100 420 L200 400"/>
<path class="o4" stroke-width="68" d="M940 600 C980 580 1010 560 1040 530 C1080 490 1110 460 1150 450 C1200 455 1250 460 1356 450"/>
<path class="o4" stroke-width="68" d="M900 839 C920 790 940 740 970 680 L990 640"/>
</g>
<g transform="translate(388,418) scale(0.154867)">
<path class="o4" stroke-width="68" d="M0 460 C40 470 80 480 120 470 C160 460 200 440 240 420 C280 400 320 370 380 340"/>
</g>
<g transform="translate(808,418) scale(0.154867)">
<path class="o4" stroke-width="76.5" d="M500 0 C550 15 620 40 700 70 C750 80 800 65 850 45 C900 30 950 15 1000 10"/>
</g>
<g transform="translate(178,548) scale(0.154867)">
<path class="o4" stroke-width="85" d="M450 20 C500 40 560 70 650 90 C720 85 800 60 870 40 L950 0"/>
</g>
<g transform="translate(388,548) scale(0.154867)">
<path class="o4" stroke-width="68" d="M0 80 C40 75 100 60 160 45 C220 30 270 15 320 0"/>
</g>
<g transform="translate(620,450) scale(0.154867)">
<path class="o4" stroke-width="63.75" d="M-170 230 C-150 300 -130 400 -90 440 C-50 465 0 465 40 462"/>
<path class="o4" stroke-width="55.25" d="M1250 380 C1240 480 1230 600 1250 700"/>
</g>
<g transform="translate(1018,490) scale(0.154867)">
<path class="o4" stroke-width="76.5" d="M0 210 C100 200 200 180 300 170 L380 130"/>
</g>
<g transform="translate(0,0) scale(1.000000)">
<path class="o4" style="fill:#e8540f;stroke:none" d="M776 288 L816 288 L821 300 L813 322 L801 328 L789 318 Z"/>
</g>
<g transform="translate(0,0) scale(1.000000)">
<path class="hl" stroke-width="6.8" d="M1112 628 L1126 630"/>
<path class="hl" stroke-width="7.65" d="M1164 606 L1182 612"/>
<path class="hl" stroke-width="5.95" d="M1120 668 L1132 670"/>
<path class="hl" stroke-width="5.1" d="M1190 640 L1196 655"/>
<path class="hl" stroke-width="3.4" d="M802 300 L805 304"/>
</g>
<g transform="translate(388,288) scale(0.154867)">
<path class="r1" stroke-width="64" d="M100 10 C180 15 260 25 380 50 C430 60 480 55 550 40 L620 0"/>
</g>
<g transform="translate(598,288) scale(0.154867)">
<path class="r1" stroke-width="24" d="M80 180 L100 190"/>
<path class="r1" stroke-width="32" d="M610 560 L690 510"/>
</g>
<g transform="translate(808,288) scale(0.154867)">
<path class="r1" stroke-width="48" d="M1240 210 L1356 225"/>
<path class="r1" stroke-width="72" d="M1240 620 C1280 600 1320 580 1356 560"/>
<path class="r1" stroke-width="32" d="M1020 780 L1080 775"/>
</g>
<g transform="translate(1018,288) scale(0.154867)">
<path class="r1" stroke-width="72" d="M0 460 C40 460 80 450 120 420 L160 380"/>
<path class="r1" stroke-width="64" d="M120 720 C180 740 240 760 300 800 L360 839"/>
<path class="r1" stroke-width="64" d="M340 700 C370 660 390 620 410 570 C430 530 450 510 470 510"/>
<path class="r1" stroke-width="40" d="M560 500 L640 560"/>
</g>
<g transform="translate(178,418) scale(0.154867)">
<path class="r1" stroke-width="28" d="M960 590 C990 575 1010 560 1030 540"/>
</g>
<g transform="translate(388,418) scale(0.154867)">
<path class="r1" stroke-width="80" d="M0 740 C60 740 140 730 220 705 C290 680 350 640 400 600 C440 560 480 530 550 510 C620 505 680 520 750 490 C800 475 870 470 950 470 C1000 460 1050 430 1100 400 C1150 370 1200 365 1250 370 C1290 380 1320 400 1356 420"/>
<path class="r1" stroke-width="32" d="M1150 790 L1250 815"/>
</g>
<g transform="translate(808,418) scale(0.154867)">
<path class="r1" stroke-width="32" d="M1240 135 L1340 140"/>
<path class="r1" stroke-width="28" d="M170 515 L230 500"/>
</g>
<g transform="translate(1018,418) scale(0.154867)">
<path class="r1" stroke-width="56" d="M0 30 C40 40 80 55 120 55 C160 50 190 40 220 30"/>
<path class="r1" stroke-width="64" d="M200 0 C240 20 280 30 320 20 L380 0"/>
<path class="r1" stroke-width="40" d="M1240 230 C1260 260 1250 300 1200 330"/>
</g>
<g transform="translate(178,548) scale(0.154867)">
<path class="r1" stroke-width="36" d="M640 85 C720 80 800 60 870 40"/>
</g>
<g transform="translate(388,548) scale(0.154867)">
<path class="r1" stroke-width="28" d="M80 65 C140 52 200 38 260 20"/>
<path class="r1" stroke-width="48" d="M600 230 C660 250 720 270 780 285 C830 295 870 305 900 310"/>
<path class="r1" stroke-width="56" d="M1050 0 C1100 20 1150 45 1200 80"/>
<path class="r1" stroke-width="64" d="M1200 0 C1260 10 1310 15 1356 20"/>
</g>
<g transform="translate(1018,548) scale(0.154867)">
<path class="r1" stroke-width="88" d="M900 150 C950 185 1000 220 1080 250 C1140 270 1180 300 1220 350 L1260 420"/>
<path class="r1" stroke-width="64" d="M1130 360 C1145 420 1155 500 1160 560 L1180 650"/>
<path class="r1" stroke-width="36" d="M590 620 L610 680"/>
<path class="r1" stroke-width="56" d="M790 620 C830 620 870 620 920 610"/>
<path class="r1" stroke-width="64" d="M1200 760 C1250 780 1300 800 1336 839"/>
<path class="r1" stroke-width="24" d="M1040 345 L1070 340"/>
</g>
<g transform="translate(620,450) scale(0.154867)">
<path class="r1" stroke-width="72" d="M0 465 C100 455 200 440 280 400 C320 375 350 350 410 325"/>
<path class="r1" stroke-width="88" d="M-150 655 C0 650 100 640 200 625 C330 600 420 580 480 520 C520 440 540 350 560 270 C600 250 660 250 720 310 L760 360"/>
<path class="r1" stroke-width="60" d="M760 360 C800 290 900 250 1000 220 C1080 180 1150 140 1250 130 C1290 180 1280 280 1250 380"/>
<path class="r1" stroke-width="28" d="M1255 360 C1245 450 1238 560 1250 680"/>
<path class="r1" stroke-width="52" d="M800 400 C900 390 1000 410 1100 440 C1150 460 1180 480 1200 530"/>
<path class="r1" stroke-width="28" d="M800 510 L900 530"/>
</g>
<g transform="translate(820,490) scale(0.154867)">
<path class="r1" style="fill:#f2200c;stroke:none" d="M200 335 L400 340 L550 300 L650 260 L800 230 L1000 240 L1100 240 L1180 235 L1260 230 L1356 225 L1356 250 L1220 258 L1150 290 L1150 370 L1220 390 L1356 395 L1356 435 L1100 420 L1000 400 L800 420 L600 440 L400 470 L200 480 L60 450 L40 300 Z"/>
</g>
<g transform="translate(1018,490) scale(0.154867)">
<path class="r1" style="fill:#f2200c;stroke:none" d="M400 450 L550 430 L700 420 L850 410 L950 400 L1050 420 L1150 450 L1250 470 L1336 470 L1336 700 L1250 690 L1150 640 L1050 600 L950 570 L850 560 L700 560 L550 540 L400 500 Z"/>
<path class="r1" stroke-width="72" d="M0 430 C100 420 200 425 260 445"/>
<path class="r1" stroke-width="48" d="M130 560 C170 575 210 580 250 570"/>
<path class="r1" stroke-width="32" d="M0 212 C80 205 140 195 200 185"/>
</g>
<g transform="translate(0,0) scale(1.000000)">
<path class="r1" stroke-width="7.2" d="M776 287 C783 300 790 318 802 326 C812 322 818 310 818 300 C818 293 815 289 812 288"/>
<path class="r1" stroke-width="6.4" d="M812 294 C825 298 840 300 852 305"/>
</g>
<g transform="translate(388,418) scale(0.154867)">
<path class="r3" stroke-width="36" d="M180 715 C260 690 330 650 380 610"/>
<path class="r3" stroke-width="28" d="M490 520 L580 510"/>
<path class="r3" stroke-width="32" d="M1100 395 C1150 370 1200 370 1230 375"/>
</g>
<g transform="translate(1018,548) scale(0.154867)">
<path class="r3" stroke-width="44" d="M1000 200 C1060 230 1120 260 1180 300 C1220 340 1240 380 1250 420"/>
</g>
<g transform="translate(620,450) scale(0.154867)">
<path class="r3" stroke-width="48" d="M200 625 C280 610 360 600 420 580"/>
<path class="r3" stroke-width="32" d="M1030 200 L1150 150"/>
</g>
<g transform="translate(820,490) scale(0.154867)">
<path class="r3" style="fill:#a81830;stroke:none" d="M430 420 C480 400 560 380 600 330 C650 290 700 265 800 250 L1000 250 L1080 290 L1000 300 L820 300 C750 310 690 350 640 380 C580 420 500 440 430 440 Z"/>
</g>
<g transform="translate(1018,490) scale(0.154867)">
<path class="r3" stroke-width="56" d="M650 485 C750 490 850 500 950 510 C1050 540 1150 600 1250 680"/>
<path class="r3" stroke-width="32" d="M1100 485 L1200 505"/>
<path class="r3" stroke-width="40" d="M0 420 C100 410 180 415 230 430"/>
</g>
</g>
<g id="land" stroke-linejoin="miter">
<path d="M899.4 284 L899.4 288 L908.7 295.7 L916.4 298.8 L925.7 301.9 L936.5 306.6 L942.7 308.1 L956.7 315.1 L972.2 319 L983 321.3 L989.2 319 L1000 313.6 L1009.3 313.6 L1018 317.4 L1027.3 323.6 L1036.6 332.9 L1045.9 340.7 L1058.3 346.9 L1070.7 349.9 L1079.9 354.6 L1090.8 358.5 L1109.4 359.2 L1110.9 356.1 L1116.3 361.6 L1112.5 363.1 L1123.3 374.7 L1138.8 388.7 L1140.3 396.4 L1141.6 408.8 L1148.8 412 L1154.4 409.2 L1158.4 413.6 L1167.2 419.2 L1171.2 423.2 L1170.4 429.6 L1175.2 432 L1182.4 435.2 L1186.4 433.6 L1196 436 L1200.8 438.4 L1204.8 441.6 L1212 442.4 L1213.6 450.4 L1220 448.8 L1230 446 L1230 421 L1205.6 427.2 L1199.2 423.6 L1194.4 422.4 L1191.2 416 L1183.2 411.2 L1179.2 407.2 L1176 400.8 L1172 394.4 L1169.6 388.8 L1171.2 383.2 L1172.9 370.1 L1174.4 349.9 L1178.3 340.7 L1177.5 330.6 L1168.2 325.9 L1162 320.5 L1149.6 318.2 L1135.7 318.2 L1123.3 320.8 L1114 319.7 L1103.2 322.1 L1092.3 316.7 L1100.1 308.1 L1102.4 300.4 L1103.2 288 L1103.2 284 Z" fill="#fff" stroke="#fff" stroke-width="13"/>
<path d="M1230 561 L1220.3 562.4 L1219 572.2 L1214 573.6 L1214.8 583.4 L1213.4 593.1 L1219 598.7 L1230 604 Z" fill="#fff" stroke="#fff" stroke-width="10"/>
<path d="M1230 609.9 L1216.2 614.1 L1207.8 621.1 L1206.4 626.7 L1207.8 636.5 L1212 642.1 L1210.6 647.7 L1217.6 652 L1230 656 Z" fill="#fff" stroke="#fff" stroke-width="10"/>
<path d="M1052.6 564.4 H1064 V568 H1067.3 V575.8 H1064 V578.8 H1052.6 V575.8 H1049 V568 H1052.6 Z" fill="#fff"/>
<g fill="#808080" stroke="#000" stroke-width="1">
<path d="M899.4 284 L899.4 288 L908.7 295.7 L916.4 298.8 L925.7 301.9 L936.5 306.6 L942.7 308.1 L956.7 315.1 L972.2 319 L983 321.3 L989.2 319 L1000 313.6 L1009.3 313.6 L1018 317.4 L1027.3 323.6 L1036.6 332.9 L1045.9 340.7 L1058.3 346.9 L1070.7 349.9 L1079.9 354.6 L1090.8 358.5 L1109.4 359.2 L1110.9 356.1 L1116.3 361.6 L1112.5 363.1 L1123.3 374.7 L1138.8 388.7 L1140.3 396.4 L1141.6 408.8 L1148.8 412 L1154.4 409.2 L1158.4 413.6 L1167.2 419.2 L1171.2 423.2 L1170.4 429.6 L1175.2 432 L1182.4 435.2 L1186.4 433.6 L1196 436 L1200.8 438.4 L1204.8 441.6 L1212 442.4 L1213.6 450.4 L1220 448.8 L1230 446 L1230 421 L1205.6 427.2 L1199.2 423.6 L1194.4 422.4 L1191.2 416 L1183.2 411.2 L1179.2 407.2 L1176 400.8 L1172 394.4 L1169.6 388.8 L1171.2 383.2 L1172.9 370.1 L1174.4 349.9 L1178.3 340.7 L1177.5 330.6 L1168.2 325.9 L1162 320.5 L1149.6 318.2 L1135.7 318.2 L1123.3 320.8 L1114 319.7 L1103.2 322.1 L1092.3 316.7 L1100.1 308.1 L1102.4 300.4 L1103.2 288 L1103.2 284 Z"/>
<path d="M1230 561 L1220.3 562.4 L1219 572.2 L1214 573.6 L1214.8 583.4 L1213.4 593.1 L1219 598.7 L1230 604 Z"/>
<path d="M1230 609.9 L1216.2 614.1 L1207.8 621.1 L1206.4 626.7 L1207.8 636.5 L1212 642.1 L1210.6 647.7 L1217.6 652 L1230 656 Z"/>
<path d="M1055.3 557.2 L1064.3 569.8 L1059.2 574.9 L1054.4 572.5 L1058.6 569.2 L1054.4 564.7 Z"/>
</g>
<path d="M1226 433.6 L1220 436 L1220.8 440 L1226 444 Z" fill="#fff" stroke="#000" stroke-width="1"/>
</g>

</g>
<!-- grid -->
<g stroke="#333" stroke-width="1" stroke-dasharray="1 3" fill="none">
<path d="M401.5 298V669M626.5 298V669M851.5 298V669M1077.5 298V669"/>
</g>
<g stroke="#555" stroke-width="1.4" stroke-dasharray="1 3" fill="none">
<path d="M188 332H1217M188 408H1217M188 484H1217M188 559H1217M188 634H1217"/>
</g>
<!-- frame -->
<rect x="176" y="286" width="1051" height="393" fill="none" stroke="#000" stroke-width="4"/>
<g fill="#000">
<rect x="399" y="288" width="4" height="8"/><rect x="624" y="288" width="4" height="8"/><rect x="850" y="288" width="4" height="8"/><rect x="1075" y="288" width="4" height="8"/>
<rect x="399" y="669" width="4" height="8"/><rect x="624" y="669" width="4" height="8"/><rect x="850" y="669" width="4" height="8"/><rect x="1075" y="669" width="4" height="8"/>
<rect x="178" y="330" width="8" height="4"/><rect x="178" y="406" width="8" height="4"/><rect x="178" y="482" width="8" height="4"/><rect x="178" y="557" width="8" height="4"/><rect x="178" y="632" width="8" height="4"/>
<rect x="1217" y="330" width="8" height="4"/><rect x="1217" y="406" width="8" height="4"/><rect x="1217" y="482" width="8" height="4"/><rect x="1217" y="557" width="8" height="4"/><rect x="1217" y="632" width="8" height="4"/>
</g>
<!-- lat labels -->
<g font-size="16.5" fill="#000" text-anchor="end">
<text x="172" y="341">15<tspan font-size="12" dx="0.8" dy="-8">o</tspan><tspan dx="1.2" dy="8">N</tspan></text>
<text x="172" y="417">10<tspan font-size="12" dx="0.8" dy="-8">o</tspan><tspan dx="1.2" dy="8">N</tspan></text>
<text x="172" y="492">5<tspan font-size="12" dx="0.8" dy="-8">o</tspan><tspan dx="1.2" dy="8">N</tspan></text>
<text x="166.5" y="568">0<tspan font-size="12" dx="0.8" dy="-8">o</tspan></text>
<text x="172" y="643">5<tspan font-size="12" dx="0.8" dy="-8">o</tspan><tspan dx="1.2" dy="8">S</tspan></text>
</g>
<g font-size="16.5" fill="#000" text-anchor="middle">
<text x="177" y="701">150<tspan font-size="12" dx="0.8" dy="-8">o</tspan><tspan dx="1.2" dy="8">W</tspan></text>
<text x="402" y="701">135<tspan font-size="12" dx="0.8" dy="-8">o</tspan><tspan dx="1.2" dy="8">W</tspan></text>
<text x="627" y="701">120<tspan font-size="12" dx="0.8" dy="-8">o</tspan><tspan dx="1.2" dy="8">W</tspan></text>
<text x="852" y="701">105<tspan font-size="12" dx="0.8" dy="-8">o</tspan><tspan dx="1.2" dy="8">W</tspan></text>
<text x="1078" y="701">90<tspan font-size="12" dx="0.8" dy="-8">o</tspan><tspan dx="1.2" dy="8">W</tspan></text>
</g>
<!-- colorbar -->
<rect x="174.5" y="711.5" width="1050" height="19" fill="url(#cb)" stroke="#262626" stroke-width="1"/>
<g stroke="#262626" stroke-width="1">
<path d="M349.5 720V731M524.5 720V731M699.5 720V731M874.5 720V731M1049.5 720V731"/>
</g>
<g font-size="17.2" fill="#262626" text-anchor="middle">
<text x="174" y="755">-0.03</text>
<text x="349" y="755">-0.02</text>
<text x="524" y="755">-0.01</text>
<text x="700" y="755">0</text>
<text x="875" y="755">0.01</text>
<text x="1050" y="755">0.02</text>
<text x="1225" y="755">0.03</text>
<circle cx="680.5" cy="770" r="2.4" fill="none" stroke="#262626" stroke-width="0.9"/><text x="684" y="779" text-anchor="start">C/km</text>
</g>
</svg>
</body></html>
